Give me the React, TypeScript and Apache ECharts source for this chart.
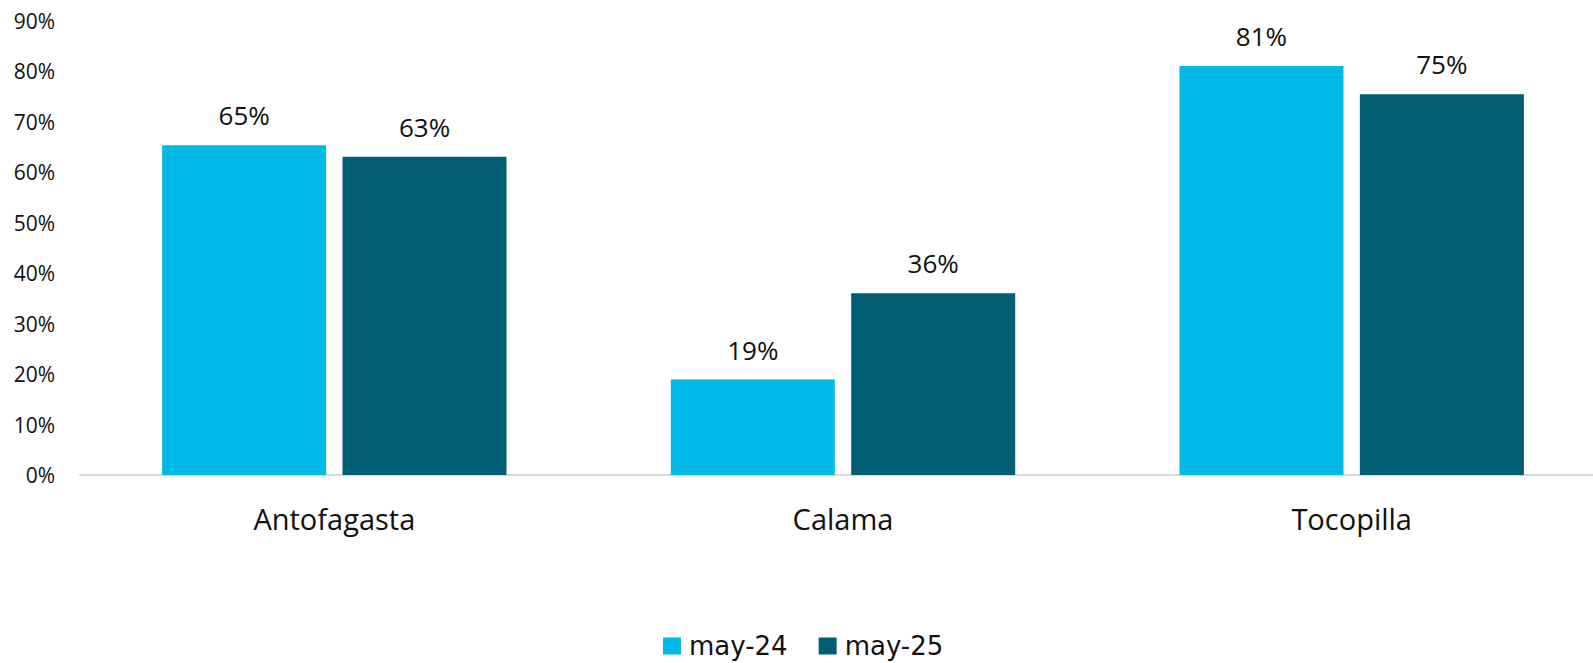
import React, { useEffect, useRef } from "react";
import * as echarts from "echarts";

const categories = ["Antofagasta", "Calama", "Tocopilla"];
const seriesNames = ["may-24", "may-25"];
const may24 = [65.3, 18.9, 81.0];
const may25 = [63.0, 36.0, 75.4];
const yTicks = [0, 10, 20, 30, 40, 50, 60, 70, 80, 90];
const colors = ["#00B9E7", "#005D73"];
const FONT = "'Open Sans', 'Noto Sans', sans-serif";
const LEGEND_FONT = "'DejaVu Sans', sans-serif";

export default function App() {
  const ref = useRef<HTMLDivElement>(null);
  useEffect(() => {
    if (!ref.current) return;
    const chart = echarts.init(ref.current, undefined, { renderer: "svg" });
    const label = {
      show: true,
      position: "top",
      distance: 17,
      color: "#111111",
      fontSize: 26,
      fontFamily: FONT,
      formatter: (p: any) => Math.round(p.value) + "%",
    };
    chart.setOption({
      animation: false,
      textStyle: { fontFamily: FONT },
      grid: { left: 80, right: 0, top: 20.5, height: 454.5, containLabel: false },
      legend: {
        top: 633,
        left: 663,
        padding: 0,
        itemWidth: 18,
        itemHeight: 17,
        itemGap: 31,
        icon: "rect",
        textStyle: {
          fontSize: 26,
          lineHeight: 26,
          color: "#111111",
          fontFamily: LEGEND_FONT,
          padding: [0, 0, 0, 3],
        },
        data: seriesNames,
      },
      xAxis: {
        type: "category",
        data: categories,
        axisLine: { show: true, lineStyle: { color: "#d9d9d9", width: 2 } },
        axisTick: { show: false },
        axisLabel: { color: "#111111", fontSize: 29, margin: 29, fontFamily: FONT },
      },
      yAxis: {
        type: "value",
        min: yTicks[0],
        max: yTicks[yTicks.length - 1],
        interval: 10,
        splitLine: { show: false },
        axisLine: { show: false },
        axisTick: { show: false },
        axisLabel: {
          color: "#111111",
          fontSize: 21,
          margin: 25,
          fontFamily: FONT,
          formatter: (v: number) => v + "%",
        },
      },
      series: [
        {
          name: seriesNames[0],
          type: "bar",
          data: may24,
          barWidth: 164,
          barGap: "10%",
          itemStyle: { color: colors[0] },
          label,
        },
        {
          name: seriesNames[1],
          type: "bar",
          data: may25,
          barWidth: 164,
          barGap: "10%",
          itemStyle: { color: colors[1] },
          label,
        },
      ],
    });
    return () => chart.dispose();
  }, []);
  return (
    <div
      style={{
        position: "fixed",
        left: 0,
        top: 0,
        width: 1593,
        height: 663,
        overflow: "hidden",
        background: "#fff",
      }}
    >
      <div ref={ref} style={{ width: 1606, height: 663 }} />
    </div>
  );
}
